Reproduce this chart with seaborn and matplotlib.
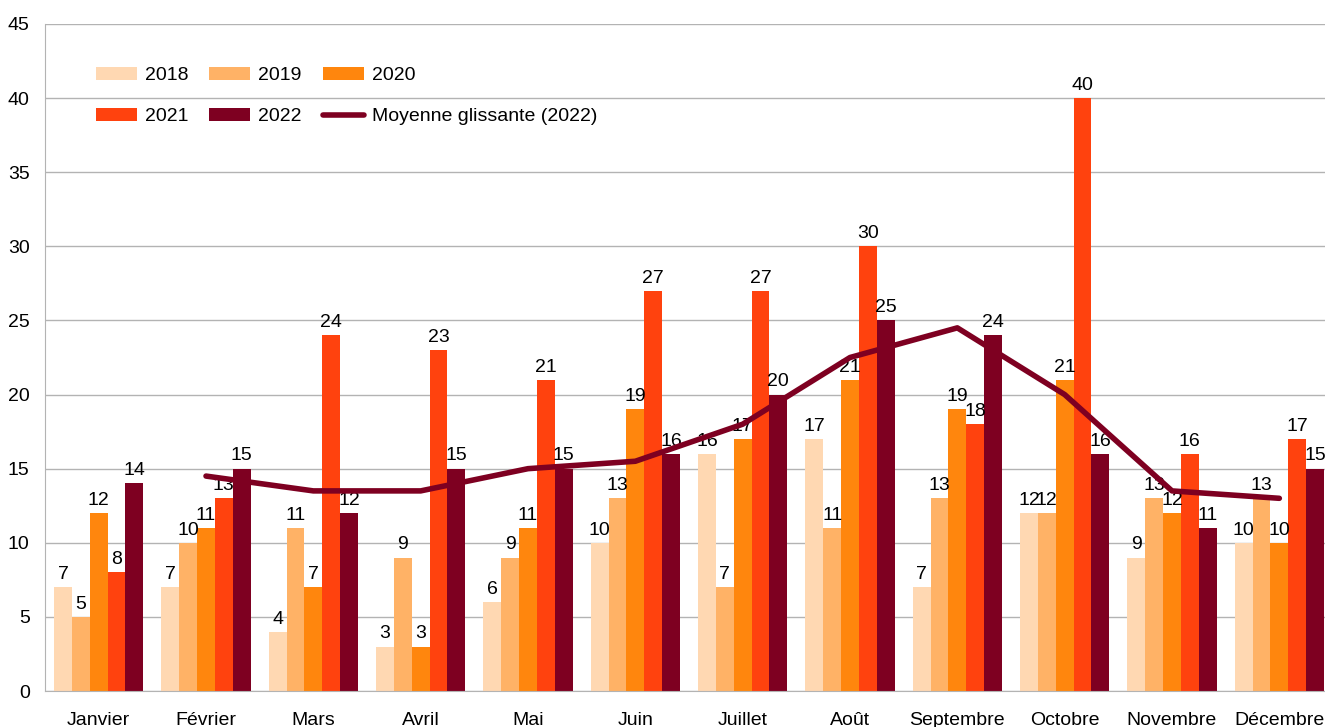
import numpy as np
import pandas as pd
import seaborn as sns
import matplotlib.pyplot as plt

mois = ['Janvier', 'Février', 'Mars', 'Avril', 'Mai', 'Juin', 'Juillet',
        'Août', 'Septembre', 'Octobre', 'Novembre', 'Décembre']
annees = ['2018', '2019', '2020', '2021', '2022']
v2018 = [7, 7, 4, 3, 6, 10, 16, 17, 7, 12, 9, 10]
v2019 = [5, 10, 11, 9, 9, 13, 7, 11, 13, 12, 13, 13]
v2020 = [12, 11, 7, 3, 11, 19, 17, 21, 19, 21, 12, 10]
v2021 = [8, 13, 24, 23, 21, 27, 27, 30, 18, 40, 16, 17]
v2022 = [14, 15, 12, 15, 15, 16, 20, 25, 24, 16, 11, 15]
couleurs = ['#ffd8b2', '#ffb266', '#ff860d', '#ff420e', '#7e0021']

rows = []
for an, vals in zip(annees, [v2018, v2019, v2020, v2021, v2022]):
    for m, v in zip(mois, vals):
        rows.append({'mois': m, 'annee': an, 'valeur': v})
df = pd.DataFrame(rows)

# moyenne glissante sur 2 mois
moy = pd.Series(v2022).rolling(2).mean()
ligne = pd.DataFrame({'x': np.arange(len(mois)), 'y': moy}).dropna()

sns.set_style('white')
plt.rcParams['font.family'] = ['Liberation Sans', 'DejaVu Sans']
plt.rcParams['text.color'] = 'black'
plt.rcParams['xtick.labelcolor'] = 'black'
plt.rcParams['ytick.labelcolor'] = 'black'

fig = plt.figure(figsize=(13.25, 7.27), dpi=100)
ax = fig.add_axes([45 / 1325, 36 / 727, 1288 / 1325, 667 / 727])

sns.barplot(data=df, x='mois', y='valeur', hue='annee', palette=couleurs,
            saturation=1, width=0.83, gap=0, ax=ax, edgecolor='none', zorder=2)
for c in ax.containers:
    ax.bar_label(c, fontsize=14, padding=3, color='black')

sns.lineplot(data=ligne, x='x', y='y', color='#7e0021', linewidth=4,
             ax=ax, label='Moyenne glissante (2022)', zorder=3)

ax.set_xlim(-0.5, 11.5)
ax.set_ylim(0, 45)
ax.set_yticks(range(0, 46, 5))
ax.set_xticks(range(12))
ax.set_xticklabels(mois)
ax.set_xticks(np.arange(-0.5, 12, 1), minor=True)
ax.tick_params(axis='x', which='major', length=0, labelsize=14, pad=15)
ax.tick_params(axis='x', which='minor', length=8, color='#b3b3b3', width=1)
ax.tick_params(axis='y', length=7, color='#b3b3b3', labelsize=14, pad=4)
ax.set_xlabel('')
ax.set_ylabel('')
ax.yaxis.grid(True, color='#b3b3b3', linewidth=1)
ax.set_axisbelow(True)
for s in ['top', 'right']:
    ax.spines[s].set_visible(False)
for s in ['left', 'bottom']:
    ax.spines[s].set_color('#b3b3b3')

h, l = ax.get_legend_handles_labels()
order = [0, 3, 1, 4, 2, 5]
ax.legend([h[i] for i in order], [l[i] for i in order], ncol=3, frameon=False,
          loc='upper left', bbox_to_anchor=(0.026, 0.962), fontsize=14,
          handlelength=2.1, handleheight=0.7, labelspacing=1.2,
          columnspacing=1.1, handletextpad=0.4)

fig.savefig('out.png', dpi=100)
